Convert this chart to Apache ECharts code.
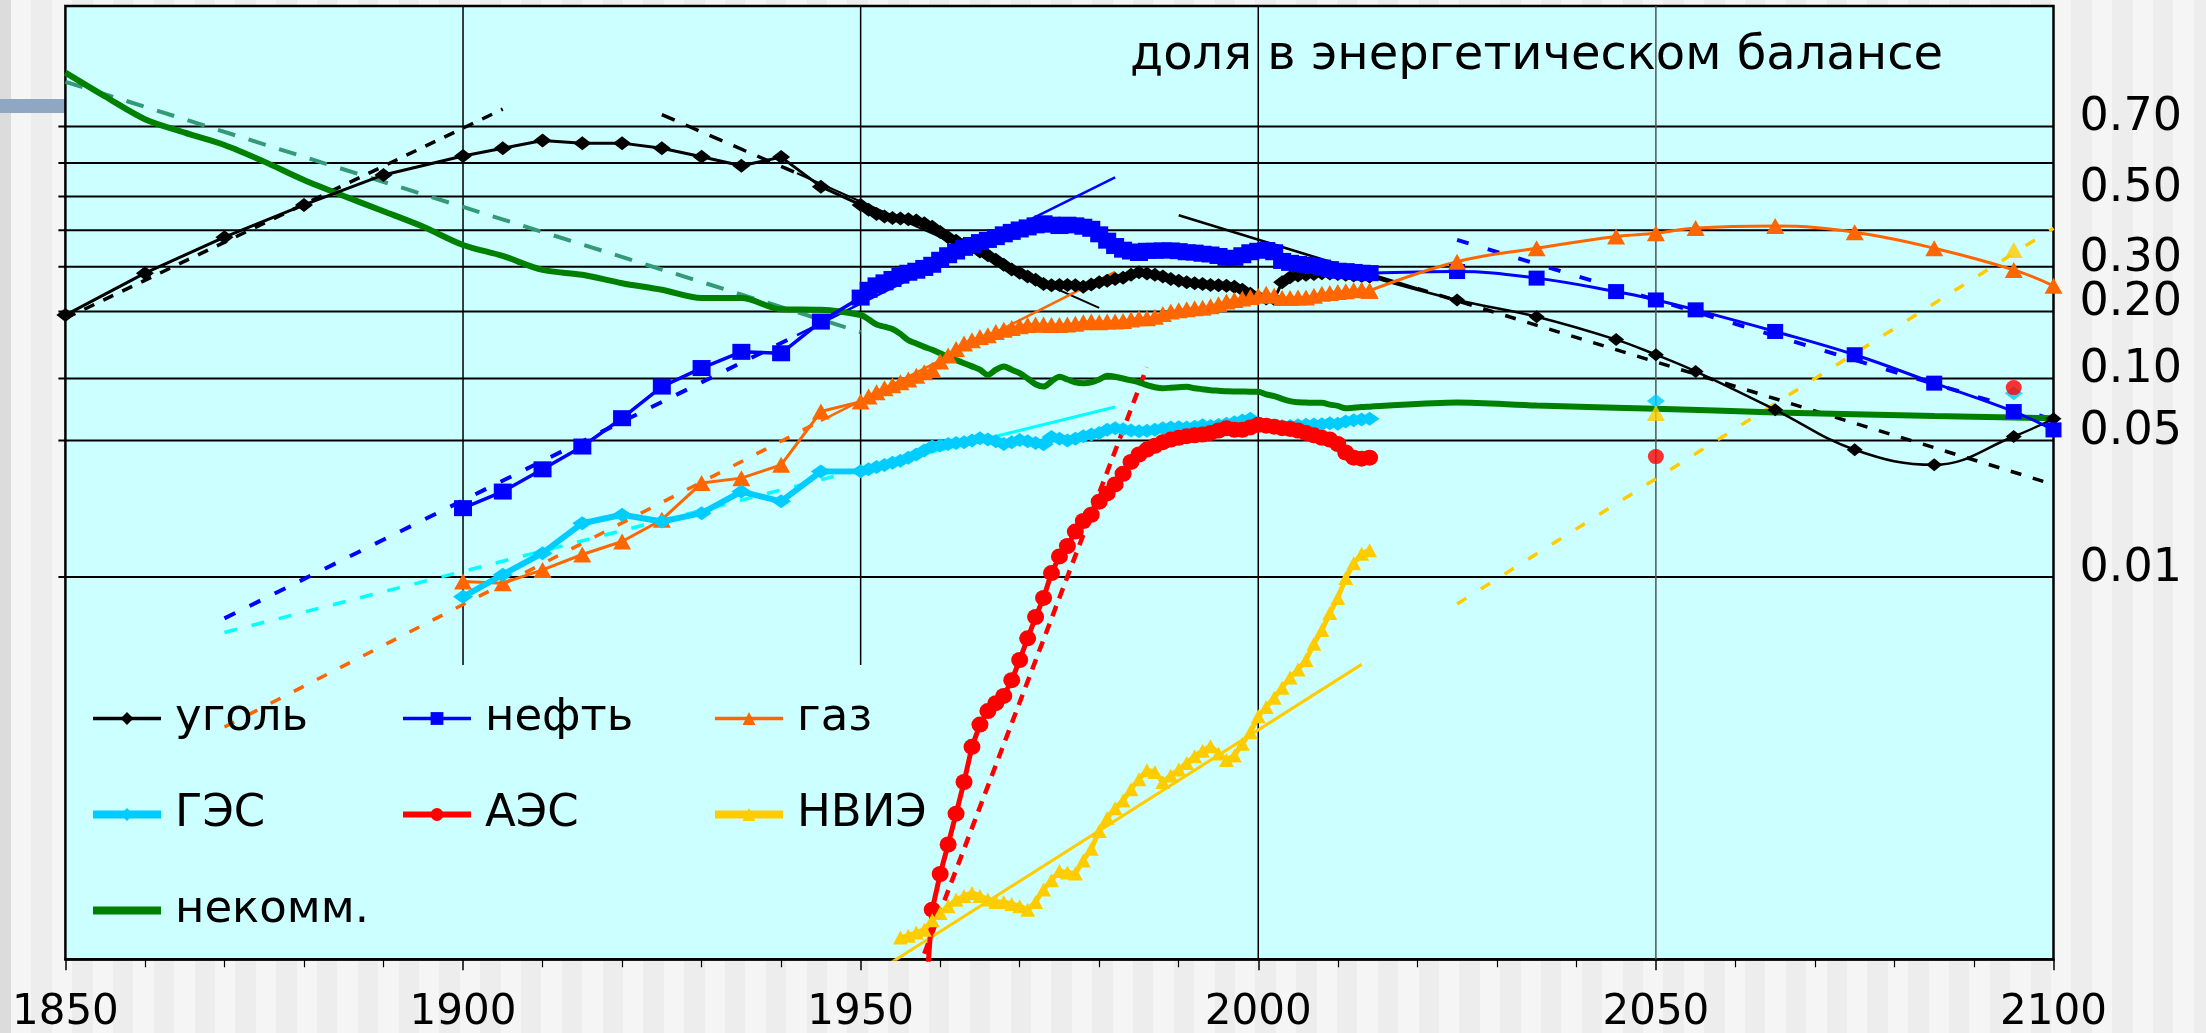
<!DOCTYPE html>
<html>
<head>
<meta charset="utf-8">
<script src="https://cdn.jsdelivr.net/npm/echarts@6/dist/echarts.min.js"></script>
<style>
  html, body { margin: 0; padding: 0; width: 2206px; height: 1033px; overflow: hidden; background: #F4F4F4; }
  #stripes { position: absolute; left: 0; top: 0; width: 2206px; height: 1033px;
    background: repeating-linear-gradient(90deg, #F5F5F5 0, #F5F5F5 20.4px, #EDEDED 20.4px, #EDEDED 40.8px);
    background-position: 11px 0; }
  #edge { position: absolute; left: 0; top: 0; width: 11px; height: 1033px; background: #DCDCDC; }
  #bar { position: absolute; left: 0; top: 99px; width: 66px; height: 14px; background: #8EA8C4; }
  #chart { position: absolute; left: 0; top: 0; width: 2206px; height: 1033px; }
</style>
</head>
<body>
<div id="stripes"></div>
<div id="edge"></div>
<div id="bar"></div>
<div id="chart"></div>
<script>
// Shares of primary energy sources, plotted on a logistic (Fisher–Pry) scale.
// Each point is [year, share].

const gridShares  = [0.7, 0.6, 0.5, 0.4, 0.3, 0.2, 0.1, 0.05, 0.01];
const labelShares = [0.7, 0.5, 0.3, 0.2, 0.1, 0.05, 0.01];
const labelTexts  = ['0.70', '0.50', '0.30', '0.20', '0.10', '0.05', '0.01'];
const shareBounds = [0.0001, 0.909];
const yearBounds  = [1850, 2100];
const yearGridLines = [1900, 1950, 2000, 2050];
const titleText = 'доля в энергетическом балансе';

// ---- coal ----
const coalHist = [[1850,0.193],[1860,0.284],[1870,0.380],[1880,0.475],[1890,0.565],[1900,0.620],[1905,0.642],[1910,0.663],[1915,0.656],[1920,0.656],[1925,0.642],[1930,0.618],[1935,0.592],[1940,0.617],[1945,0.530],[1950,0.475],
  [1951,0.460],[1952,0.448],[1953,0.440],[1954,0.436],[1955,0.434],[1956,0.432],[1957,0.428],[1958,0.420],[1959,0.410],[1960,0.395],[1961,0.380],[1962,0.370],[1963,0.360],[1964,0.350],[1965,0.340],[1966,0.330],[1967,0.318],[1968,0.305],[1969,0.293],[1970,0.285],
  [1971,0.276],[1972,0.268],[1973,0.258],[1974,0.255],[1975,0.256],[1976,0.256],[1977,0.255],[1978,0.252],[1979,0.257],[1980,0.262],[1981,0.266],[1982,0.270],[1983,0.273],[1984,0.280],[1985,0.286],[1986,0.283],[1987,0.280],[1988,0.276],[1989,0.270],[1990,0.266],
  [1991,0.262],[1992,0.260],[1993,0.258],[1994,0.256],[1995,0.255],[1996,0.254],[1997,0.252],[1998,0.245],[1999,0.236],[2000,0.229],[2001,0.226],[2002,0.225],[2003,0.262],[2004,0.274],[2005,0.278],[2006,0.280],[2007,0.282],[2008,0.284],[2009,0.283],[2010,0.282],
  [2011,0.280],[2012,0.278],[2013,0.277],[2014,0.276]];
const coalForecast = [[2014,0.276],[2025,0.223],[2035,0.190],[2045,0.151],[2050,0.129],[2055,0.108],[2065,0.0708],[2075,0.0449],[2085,0.0377],[2095,0.0523],[2100,0.064]];
const coalTrendRise     = [[1850,0.187],[1905,0.742]];
const coalTrendFallDash = [[1925,0.729],[1942,0.570]];
const coalTrendFall     = [[1942,0.570],[1980,0.207]];
const coalTrendLate     = [[1990,0.444],[2020,0.248]];
const coalTrendLateDash = [[2020,0.248],[2100,0.030]];

// ---- oil ----
const oilHist = [[1900,0.0227],[1905,0.0276],[1910,0.0358],[1915,0.0466],[1920,0.0644],[1925,0.0916],[1930,0.112],[1935,0.133],[1940,0.131],[1945,0.181],[1950,0.228],
  [1951,0.245],[1952,0.255],[1953,0.262],[1954,0.270],[1955,0.278],[1956,0.285],[1957,0.290],[1958,0.297],[1959,0.305],[1960,0.318],[1961,0.330],[1962,0.340],[1963,0.350],[1964,0.358],[1965,0.366],[1966,0.372],[1967,0.380],[1968,0.388],[1969,0.395],[1970,0.402],
  [1971,0.408],[1972,0.414],[1973,0.420],[1974,0.416],[1975,0.412],[1976,0.416],[1977,0.414],[1978,0.410],[1979,0.404],[1980,0.388],[1981,0.370],[1982,0.355],[1983,0.345],[1984,0.340],[1985,0.336],[1986,0.342],[1987,0.342],[1988,0.343],[1989,0.343],[1990,0.341],
  [1991,0.338],[1992,0.337],[1993,0.334],[1994,0.332],[1995,0.328],[1996,0.323],[1997,0.323],[1998,0.330],[1999,0.338],[2000,0.342],[2001,0.344],[2002,0.338],[2003,0.315],[2004,0.310],[2005,0.307],[2006,0.305],[2007,0.302],[2008,0.298],[2009,0.294],[2010,0.290],
  [2011,0.289],[2012,0.287],[2013,0.285],[2014,0.284]];
const oilForecast = [[2014,0.284],[2025,0.288],[2035,0.272],[2045,0.241],[2050,0.223],[2055,0.203],[2065,0.164],[2075,0.129],[2085,0.0951],[2095,0.0694],[2100,0.0564]];
const oilTrendDash = [[1870,0.0061],[1942,0.158]];
const oilTrend     = [[1942,0.158],[1982,0.5575]];
const oilTrendLate = [[2025,0.372],[2100,0.0632]];

// ---- gas ----
const gasHist = [[1900,0.0095],[1905,0.0093],[1910,0.0109],[1915,0.0131],[1920,0.0153],[1925,0.0198],[1930,0.0305],[1935,0.0323],[1940,0.0377],[1945,0.0694],[1950,0.0776],
  [1951,0.082],[1952,0.086],[1953,0.090],[1954,0.093],[1955,0.096],[1956,0.099],[1957,0.103],[1958,0.107],[1959,0.110],[1960,0.120],[1961,0.128],[1962,0.137],[1963,0.145],[1964,0.150],[1965,0.155],[1966,0.158],[1967,0.163],[1968,0.167],[1969,0.170],[1970,0.173],
  [1971,0.175],[1972,0.176],[1973,0.176],[1974,0.175],[1975,0.175],[1976,0.176],[1977,0.177],[1978,0.180],[1979,0.181],[1980,0.180],[1981,0.181],[1982,0.181],[1983,0.182],[1984,0.185],[1985,0.187],[1986,0.187],[1987,0.190],[1988,0.195],[1989,0.200],[1990,0.202],
  [1991,0.204],[1992,0.206],[1993,0.207],[1994,0.210],[1995,0.214],[1996,0.220],[1997,0.223],[1998,0.226],[1999,0.229],[2000,0.232],[2001,0.236],[2002,0.232],[2003,0.227],[2004,0.227],[2005,0.228],[2006,0.228],[2007,0.232],[2008,0.236],[2009,0.238],[2010,0.240],
  [2011,0.242],[2012,0.244],[2013,0.245],[2014,0.243]];
const gasForecast = [[2014,0.243],[2025,0.313],[2035,0.349],[2045,0.382],[2050,0.391],[2055,0.406],[2065,0.412],[2075,0.394],[2085,0.349],[2095,0.292],[2100,0.254]];
const gasTrendDash = [[1870,0.00165],[1945,0.0625]];
const gasTrend     = [[1945,0.0625],[1982,0.287]];

// ---- hydro ----
const hydroHist = [[1900,0.0079],[1905,0.0103],[1910,0.0133],[1915,0.0190],[1920,0.0210],[1925,0.0194],[1930,0.0214],[1935,0.0276],[1940,0.0246],[1945,0.0349],[1950,0.0350],
  [1951,0.0358],[1952,0.0368],[1953,0.0376],[1954,0.0386],[1955,0.0395],[1956,0.0410],[1957,0.0425],[1958,0.0445],[1959,0.0466],[1960,0.0472],[1961,0.0480],[1962,0.0485],[1963,0.0490],[1964,0.0500],[1965,0.0512],[1966,0.0505],[1967,0.0495],[1968,0.0480],[1969,0.0490],[1970,0.0502],
  [1971,0.0495],[1972,0.0485],[1973,0.0478],[1974,0.0520],[1975,0.0510],[1976,0.0500],[1977,0.0510],[1978,0.0525],[1979,0.0535],[1980,0.0545],[1981,0.0565],[1982,0.0575],[1983,0.0568],[1984,0.0560],[1985,0.0556],[1986,0.0558],[1987,0.0565],[1988,0.0575],[1989,0.0580],[1990,0.0582],
  [1991,0.0580],[1992,0.0585],[1993,0.0595],[1994,0.0590],[1995,0.0597],[1996,0.0605],[1997,0.0615],[1998,0.0628],[1999,0.0640],[2000,0.0600],[2001,0.0595],[2002,0.0590],[2003,0.0588],[2004,0.0590],[2005,0.0595],[2006,0.0598],[2007,0.0600],[2008,0.0602],[2009,0.0608],[2010,0.0605],
  [2011,0.0620],[2012,0.0630],[2013,0.0635],[2014,0.0640]];
const hydroPoints = [[2050,0.0782],[2095,0.085]];
const hydroTrendDash = [[1870,0.00515],[1950,0.0357]];
const hydroTrend     = [[1950,0.0357],[1982,0.073]];

// ---- nuclear ----
const nuclearHist = [[1958,0.00005],[1959,0.000182],[1960,0.00028],[1961,0.0004],[1962,0.00058],[1963,0.00085],[1964,0.0013],[1965,0.0017],[1966,0.0020],[1967,0.0022],[1968,0.0024],[1969,0.0029],[1970,0.0037],
  [1971,0.0048],[1972,0.0062],[1973,0.0078],[1974,0.0105],[1975,0.0128],[1976,0.0145],[1977,0.0172],[1978,0.0195],[1979,0.0210],[1980,0.0245],[1981,0.0270],[1982,0.0300],[1983,0.0340],[1984,0.0390],[1985,0.0425],[1986,0.0450],[1987,0.0470],[1988,0.0490],[1989,0.0505],[1990,0.0515],
  [1991,0.0525],[1992,0.0530],[1993,0.0535],[1994,0.0545],[1995,0.0560],[1996,0.0575],[1997,0.0565],[1998,0.0565],[1999,0.0580],[2000,0.0598],[2001,0.0592],[2002,0.0585],[2003,0.0575],[2004,0.0570],[2005,0.0560],[2006,0.0545],[2007,0.0530],[2008,0.0515],[2009,0.0505],[2010,0.0480],
  [2011,0.0435],[2012,0.0410],[2013,0.0405],[2014,0.0410]];
const nuclearPoints = [[2050,0.0415],[2095,0.0906]];
const nuclearTrend  = [[1958,0.000107],[1986,0.113]];

// ---- new renewables ----
const renewHist = [[1955,0.00013],[1956,0.000133],[1957,0.000138],[1958,0.000143],[1959,0.00016],[1960,0.000175],[1961,0.00019],[1962,0.000205],[1963,0.000215],[1964,0.000223],[1965,0.000215],[1966,0.000206],[1967,0.0002],[1968,0.0002],[1969,0.000195],[1970,0.00019],
  [1971,0.000182],[1972,0.0002],[1973,0.000232],[1974,0.00026],[1975,0.00029],[1976,0.000285],[1977,0.000282],[1978,0.00033],[1979,0.00038],[1980,0.00047],[1981,0.00055],[1982,0.00062],[1983,0.00068],[1984,0.00078],[1985,0.00088],[1986,0.00098],[1987,0.00096],[1988,0.00085],[1989,0.00092],[1990,0.00099],
  [1991,0.00107],[1992,0.00116],[1993,0.00124],[1994,0.00131],[1995,0.0012],[1996,0.00111],[1997,0.00117],[1998,0.00135],[1999,0.00155],[2000,0.00188],[2001,0.0021],[2002,0.00235],[2003,0.00265],[2004,0.003],[2005,0.0033],[2006,0.0037],[2007,0.0045],[2008,0.0053],[2009,0.0065],[2010,0.0078],
  [2011,0.0099],[2012,0.0118],[2013,0.0132],[2014,0.0138]];
const renewPoints = [[2050,0.0682],[2095,0.344]];
const renewTrend     = [[1953,0.0000913],[2013,0.00351]];
const renewTrendLate = [[2025,0.00725],[2100,0.4055]];

// ---- non-commercial fuels ----
const noncomm = [[1850,0.817],[1855,0.770],[1860,0.718],[1865,0.684],[1870,0.651],[1875,0.604],[1880,0.550],[1885,0.502],[1890,0.456],[1895,0.410],[1900,0.358],[1905,0.328],[1910,0.292],[1915,0.280],[1920,0.260],[1925,0.245],[1930,0.227],[1935,0.227],[1940,0.204],[1945,0.203],[1950,0.193],
  [1951,0.185],[1952,0.176],[1953,0.172],[1954,0.168],[1955,0.160],[1956,0.150],[1957,0.145],[1958,0.140],[1959,0.136],[1960,0.131],[1961,0.126],[1962,0.122],[1963,0.118],[1964,0.114],[1965,0.110],[1966,0.104],[1967,0.110],[1968,0.114],[1969,0.110],[1970,0.106],
  [1971,0.100],[1972,0.094],[1973,0.0916],[1974,0.097],[1975,0.102],[1976,0.099],[1977,0.096],[1978,0.095],[1979,0.096],[1980,0.099],[1981,0.103],[1982,0.102],[1983,0.100],[1984,0.098],[1985,0.096],[1986,0.093],[1987,0.091],[1988,0.090],[1989,0.0905],[1990,0.091],
  [1991,0.0915],[1992,0.090],[1993,0.089],[1994,0.088],[1995,0.0875],[1996,0.087],[1997,0.0868],[1998,0.0867],[1999,0.0866],[2000,0.0866],[2001,0.084],[2002,0.0825],[2003,0.080],[2004,0.078],[2005,0.077],[2006,0.0768],[2007,0.0765],[2008,0.0765],[2009,0.075],[2010,0.074],
  [2011,0.072],[2012,0.0725],[2013,0.073],[2014,0.0733],[2025,0.0768],[2035,0.0742],[2050,0.0717],[2065,0.0687],[2085,0.066],[2100,0.0643]];
const noncommTrend = [[1850,0.80],[1950,0.163]];

// ---------------------------------------------------------------------------
(function () {
  const FONT = 'DejaVu Sans';
  const logit = s => Math.log(s / (1 - s));
  const toXY = arr => arr.map(([yr, s]) => [yr, logit(s)]);

  const C = {
    coal: '#000000', oil: '#0000FF', gas: '#FF6600', hydro: '#00CCFF', hydroTrend: '#00FFFF',
    nuclear: '#FF0000', renew: '#FFCC00', noncomm: '#008000', noncommTrend: '#339977'
  };

  function trend(name, data, color, width, type) {
    return {
      name, type: 'line', data: toXY(data), symbol: 'none', silent: true, z: 2,
      lineStyle: { color, width, type: type || 'solid' }
    };
  }
  function series(name, data, color, width, symbol, size, extra) {
    return Object.assign({
      name, type: 'line', data: toXY(data), z: 3,
      symbol, symbolSize: size,
      itemStyle: { color },
      lineStyle: { color, width }
    }, extra || {});
  }
  function points(name, data, color, symbol, size) {
    return { name, type: 'scatter', data: toXY(data), symbol, symbolSize: size, itemStyle: { color }, z: 3 };
  }

  const chart = echarts.init(document.getElementById('chart'), null, { renderer: 'canvas' });

  const legendFont = { fontFamily: FONT, fontSize: 45, color: '#000', padding: [0, 0, 0, 9] };
  const legendTop = 696;
  function legendCol(leftPos, items) {
    return {
      orient: 'vertical', left: leftPos, top: legendTop, padding: 0,
      itemWidth: 68, itemHeight: 16, itemGap: 51,
      textStyle: legendFont, selectedMode: false,
      data: items
    };
  }

  chart.setOption({
    animation: false,
    backgroundColor: 'transparent',
    grid: {
      left: 65.4, right: 152.5, top: 6, bottom: 73.7,
      show: true, backgroundColor: '#CCFFFF', borderColor: '#000', borderWidth: 2.5,
      outerBoundsMode: 'none'
    },
    xAxis: {
      type: 'value', min: yearBounds[0], max: yearBounds[1], interval: 50,
      axisLine: { show: true, onZero: false, lineStyle: { color: '#000', width: 2.5 } },
      axisTick: { show: true, inside: false, length: 11, lineStyle: { color: '#000', width: 1.5 } },
      minorTick: { show: true, splitNumber: 5, length: 8, lineStyle: { color: '#000', width: 1.2 } },
      splitLine: { show: false },
      axisLabel: { fontFamily: FONT, fontSize: 42, color: '#000', margin: 33,
        formatter: v => String(v) }
    },
    yAxis: {
      type: 'value', min: logit(shareBounds[0]), max: logit(shareBounds[1]),
      axisLine: { show: false }, axisTick: { show: false }, axisLabel: { show: false },
      splitLine: { show: false }
    },
    legend: [
      legendCol(89, [
        { name: 'уголь', lineStyle: { width: 3.5 } },
        { name: 'ГЭС', lineStyle: { width: 8 } },
        { name: 'некомм.', lineStyle: { width: 8 }, itemStyle: { opacity: 0 } }
      ]),
      legendCol(400, [
        { name: 'нефть', lineStyle: { width: 3.5 } },
        { name: 'АЭС', lineStyle: { width: 6 } }
      ]),
      legendCol(711, [
        { name: 'газ', lineStyle: { width: 3.5 } },
        { name: 'НВИЭ', lineStyle: { width: 8 } }
      ])
    ],
    series: [
      // trend lines
      trend('некомм. тренд', noncommTrend, C.noncommTrend, 4, [18, 14]),
      trend('уголь тренд 1', coalTrendRise, C.coal, 3.5, [11, 10]),
      trend('уголь тренд 2', coalTrendFallDash, C.coal, 3.5, [14, 12]),
      trend('уголь тренд 2с', coalTrendFall, C.coal, 2),
      trend('уголь тренд 3', coalTrendLate, C.coal, 2.5),
      trend('уголь тренд 3п', coalTrendLateDash, C.coal, 3.5, [11, 12]),
      trend('нефть тренд 1', oilTrendDash, C.oil, 4, [12, 16]),
      trend('нефть тренд 1с', oilTrend, C.oil, 2.5),
      trend('нефть тренд 2', oilTrendLate, C.oil, 4, [12, 20]),
      trend('газ тренд', gasTrendDash, C.gas, 3.5, [11, 15]),
      trend('газ тренд с', gasTrend, C.gas, 2.5),
      trend('ГЭС тренд', hydroTrendDash, C.hydroTrend, 3.5, [13, 15]),
      trend('ГЭС тренд с', hydroTrend, C.hydroTrend, 3),
      trend('АЭС тренд', nuclearTrend, C.nuclear, 4.5, [11, 8]),
      trend('НВИЭ тренд', renewTrend, C.renew, 3),
      trend('НВИЭ тренд п', renewTrendLate, C.renew, 3.5, [11, 17]),

      // measured and projected shares
      series('некомм.', noncomm, C.noncomm, 6, 'none', 0, { smooth: 0.3 }),
      series('уголь', coalHist, C.coal, 3, 'diamond', [18, 14]),
      series('уголь прогноз', coalForecast, C.coal, 2.5, 'diamond', [16, 13], { smooth: 0.4 }),
      series('нефть', oilHist, C.oil, 3.5, 'rect', [18, 16]),
      series('нефть прогноз', oilForecast, C.oil, 3, 'rect', [16, 15], { smooth: 0.4 }),
      series('газ', gasHist, C.gas, 3, 'triangle', [18, 16]),
      series('газ прогноз', gasForecast, C.gas, 3, 'triangle', [18, 16], { smooth: 0.4 }),
      series('ГЭС', hydroHist, C.hydro, 6, 'diamond', [20, 14]),
      points('ГЭС прогноз', hydroPoints, C.hydro, 'diamond', [18, 14]),
      series('АЭС', nuclearHist, C.nuclear, 5, 'circle', [17, 16]),
      points('АЭС прогноз', nuclearPoints, C.nuclear, 'circle', [16, 15]),
      series('НВИЭ', renewHist, C.renew, 5, 'triangle', [15, 14]),
      points('НВИЭ прогноз', renewPoints, C.renew, 'triangle', [18, 16])
    ]
  });

  // Grid lines, share labels and the caption, positioned through the axis scales.
  const px = (yr, s) => chart.convertToPixel({ gridIndex: 0 }, [yr, logit(s)]);
  const plotLeft = px(yearBounds[0], 0.5)[0];
  const plotRight = px(yearBounds[1], 0.5)[0];
  const plotTop = px(yearBounds[0], shareBounds[1])[1];
  const plotBottom = px(yearBounds[0], shareBounds[0])[1];
  const graphics = [];

  gridShares.forEach(s => {
    const y = px(yearBounds[0], s)[1];
    graphics.push({ type: 'line', z: 1, silent: true,
      shape: { x1: plotLeft - 7, y1: y, x2: plotRight, y2: y },
      style: { stroke: '#000', lineWidth: 2 } });
  });
  yearGridLines.forEach(yr => {
    const x = px(yr, 0.5)[0];
    const yEnd = yr < 2000 ? legendTop - 31 : plotBottom;
    graphics.push({ type: 'line', z: 1, silent: true,
      shape: { x1: x, y1: plotTop, x2: x, y2: yEnd },
      style: { stroke: yr === 2050 ? '#555' : '#000', lineWidth: 1.5 } });
  });
  labelShares.forEach((s, i) => {
    const y = px(yearBounds[1], s)[1];
    graphics.push({ type: 'text', z: 5, silent: true,
      x: plotRight + 26, y: y - 8,
      style: { text: labelTexts[i], fontFamily: FONT, fontSize: 46, fill: '#000',
        align: 'left', verticalAlign: 'middle' } });
  });
  graphics.push({ type: 'text', z: 5, silent: true,
    x: 1130, y: 57,
    style: { text: titleText, fontFamily: FONT, fontSize: 48, fill: '#000',
      align: 'left', verticalAlign: 'middle' } });

  chart.setOption({ graphic: graphics });
})();
</script>
</body>
</html>
